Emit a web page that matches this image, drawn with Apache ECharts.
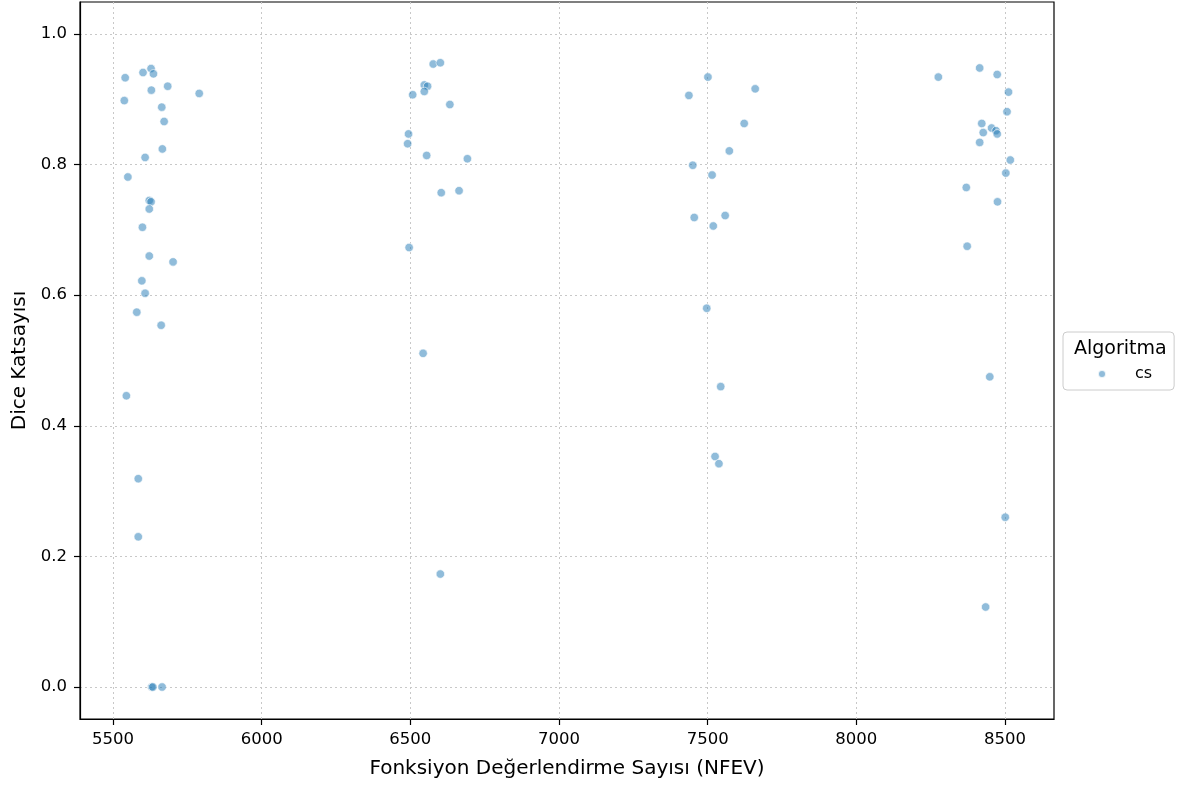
<!DOCTYPE html>
<html>
<head>
<meta charset="utf-8">
<script src="https://cdn.jsdelivr.net/npm/echarts@6/dist/echarts.min.js"></script>
<style>html,body{margin:0;padding:0;background:#fff;}#c{width:1179px;height:790px;}</style>
</head>
<body>
<div id="c"></div>
<script>
const seriesName = 'cs';
const nfev = [
  5541, 5601, 5628, 5636, 5538, 5629, 5684, 5790, 5664, 5672, 5666, 5608, 5550, 5622, 5628, 5622, 5599, 5622, 5702, 5597, 5608, 5580, 5662, 5545, 5585, 5585, 5630, 5634, 5665,
  6577, 6601, 6547, 6558, 6547, 6508, 6633, 6494, 6491, 6555, 6692, 6604, 6664, 6496, 6543, 6601,
  7501, 7437, 7660, 7623, 7573, 7450, 7515, 7455, 7559, 7519, 7497, 7544, 7525, 7538,
  8415, 8276, 8474, 8512, 8507, 8422, 8455, 8427, 8470, 8474, 8415, 8518, 8503, 8370, 8475, 8373, 8449, 8501, 8435
];
const dice = [
  0.933, 0.941, 0.947, 0.939, 0.898, 0.914, 0.920, 0.909, 0.888, 0.866, 0.824, 0.811, 0.781, 0.745, 0.743, 0.732, 0.704, 0.660, 0.651, 0.622, 0.603, 0.574, 0.554, 0.446, 0.319, 0.230, 0.0, 0.0, 0.0,
  0.954, 0.956, 0.922, 0.920, 0.912, 0.907, 0.892, 0.847, 0.832, 0.814, 0.809, 0.757, 0.760, 0.673, 0.511, 0.173,
  0.934, 0.906, 0.916, 0.863, 0.821, 0.799, 0.784, 0.719, 0.722, 0.706, 0.580, 0.460, 0.353, 0.342,
  0.948, 0.934, 0.938, 0.911, 0.881, 0.863, 0.856, 0.849, 0.852, 0.847, 0.834, 0.807, 0.787, 0.765, 0.743, 0.675, 0.475, 0.260, 0.1225
];
const xTicks = [5500, 6000, 6500, 7000, 7500, 8000, 8500];
const yTicks = [0.0, 0.2, 0.4, 0.6, 0.8, 1.0];
const xLabel = 'Fonksiyon Değerlendirme Sayısı (NFEV)';
const yLabel = 'Dice Katsayısı';
const legendTitle = 'Algoritma';

const points = nfev.map((x, i) => [x, dice[i]]);
const font = 'DejaVu Sans';
const chart = echarts.init(document.getElementById('c'), null, {renderer: 'canvas'});
const axisCommon = {
  axisLine: {show: true, onZero: false, lineStyle: {color: '#000', width: 1.2}},
  axisTick: {show: true, length: 6, lineStyle: {color: '#000', width: 1.2}},
  splitLine: {show: true, lineStyle: {color: '#c8c8c8', type: [2, 3], width: 1}},
  nameTextStyle: {fontFamily: font, fontSize: 20, color: '#000'},
};
chart.setOption({
  animation: false,
  backgroundColor: '#fff',
  grid: {left: 80, top: 2, width: 974, height: 717, show: true, borderColor: '#000', borderWidth: 1.2, backgroundColor: 'transparent'},
  title: {text: legendTitle, left: 1069, top: 335, textStyle: {fontFamily: font, fontSize: 19, fontWeight: 'normal', color: '#000'}},
  legend: {
    left: 1063, top: 332, width: 110, height: 58,
    orient: 'vertical',
    borderColor: '#ccc', borderWidth: 1, borderRadius: 4,
    padding: [34, 22, 8, 34],
    icon: 'circle', itemWidth: 8, itemHeight: 8,
    textStyle: {fontFamily: font, fontSize: 16, color: '#000', padding: [0, 0, 0, 24]},
    data: [seriesName]
  },
  xAxis: Object.assign({}, axisCommon, {
    type: 'value', min: 5389, max: 8665,
    name: xLabel, nameLocation: 'middle', nameGap: 40,
    axisTick: Object.assign({}, axisCommon.axisTick, {customValues: xTicks}),
    axisLabel: {customValues: xTicks, fontFamily: font, fontSize: 16.5, color: '#000', margin: 12, formatter: v => String(v)},
  }),
  yAxis: Object.assign({}, axisCommon, {
    type: 'value', min: -0.049, max: 1.049,
    name: yLabel, nameLocation: 'middle', nameGap: 50,
    axisTick: Object.assign({}, axisCommon.axisTick, {customValues: yTicks}),
    axisLabel: {customValues: yTicks, fontFamily: font, fontSize: 16.5, color: '#000', margin: 13, formatter: v => v.toFixed(1)},
  }),
  series: [{
    name: seriesName, type: 'scatter', data: points,
    symbolSize: 8.5,
    itemStyle: {color: 'rgba(31,119,180,0.62)', borderColor: '#fff', borderWidth: 0.8}
  }]
});
</script>
</body>
</html>
